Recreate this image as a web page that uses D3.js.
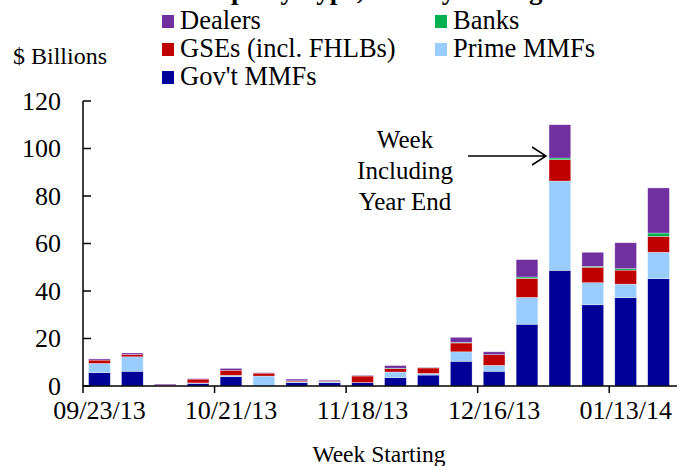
<!DOCTYPE html>
<html>
<head>
<meta charset="utf-8">
<script src="https://cdn.jsdelivr.net/npm/d3@7"></script>
<style>
  html, body { margin: 0; padding: 0; background: #fff; }
  svg { display: block; font-family: "Liberation Serif", "Times New Roman", serif; }
</style>
</head>
<body>
<div id="chart"></div>
<script>
// ---------------------------------------------------------
// data – weekly averages, $ billions
// ---------------------------------------------------------
const weeks = ["09/23/13", "09/30/13", "10/07/13", "10/14/13", "10/21/13", "10/28/13",
               "11/04/13", "11/11/13", "11/18/13", "11/25/13", "12/02/13", "12/09/13",
               "12/16/13", "12/23/13", "12/30/13", "01/06/14", "01/13/14", "01/20/14"];

const govMMFs   = [5.6, 6.2, 0.1, 1.1, 3.9, 0.0, 1.4, 1.4, 1.4, 3.5, 4.6, 10.4, 6.2, 26.0, 48.7, 34.2, 37.2, 45.2];
const primeMMFs = [3.9, 6.1, 0.0, 0.2, 0.6, 4.2, 0.4, 0.3, 0.1, 2.4, 0.7, 4.0, 2.5, 11.3, 37.6, 9.3, 5.7, 11.1];
const gses      = [1.4, 1.0, 0.3, 1.6, 2.1, 1.2, 0.4, 0.3, 2.7, 1.4, 2.3, 3.7, 4.5, 8.0, 9.0, 6.5, 5.9, 6.7];
const banks     = [0.0, 0.0, 0.0, 0.0, 0.0, 0.0, 0.0, 0.0, 0.0, 0.2, 0.1, 0.3, 0.0, 0.6, 0.7, 0.4, 0.6, 1.4];
const dealers   = [0.5, 0.6, 0.4, 0.2, 0.8, 0.2, 0.7, 0.4, 0.3, 1.1, 0.2, 2.1, 1.2, 7.3, 14.0, 5.9, 10.9, 19.0];

const yTicks = [0, 20, 40, 60, 80, 100, 120];
const xLabelWeeks = ["09/23/13", "10/21/13", "11/18/13", "12/16/13", "01/13/14"];

const series = [
  { key: "gov",    label: "Gov't MMFs",          color: "#000099", values: govMMFs },
  { key: "prime",  label: "Prime MMFs",          color: "#99CCFF", values: primeMMFs },
  { key: "gse",    label: "GSEs (incl. FHLBs)",  color: "#C00000", values: gses },
  { key: "banks",  label: "Banks",               color: "#00B050", values: banks },
  { key: "dealers",label: "Dealers",             color: "#7030A0", values: dealers }
];

// ---------------------------------------------------------
// svg + scales
// ---------------------------------------------------------
const width = 689, height = 466;
const svg = d3.select("#chart").append("svg")
    .attr("width", width)
    .attr("height", height);

const x = d3.scaleBand()
    .domain(weeks)
    .range([83, 675])
    .paddingInner(0.34)
    .paddingOuter(0.17);

const y = d3.scaleLinear()
    .domain([0, 120])
    .range([386, 101]);

const rows = weeks.map((w, i) => {
  const r = { week: w };
  series.forEach(s => r[s.key] = s.values[i]);
  return r;
});

const stacked = d3.stack().keys(series.map(s => s.key))(rows);

// bars
svg.append("g")
  .selectAll("g")
  .data(stacked)
  .join("g")
    .attr("fill", (d, i) => series[i].color)
  .selectAll("rect")
  .data(d => d)
  .join("rect")
    .attr("x", d => x(d.data.week))
    .attr("width", x.bandwidth())
    .attr("y", d => y(d[1]))
    .attr("height", d => Math.max(0, y(d[0]) - y(d[1])))
    .attr("stroke", "#fff")
    .attr("stroke-opacity", 0.5)
    .attr("stroke-width", 0.6);

// ---------------------------------------------------------
// axes
// ---------------------------------------------------------
const axisG = svg.append("g").attr("stroke", "#000").attr("stroke-width", 1.5);

// y axis line + inward ticks
axisG.append("line")
  .attr("x1", 83).attr("x2", 83)
  .attr("y1", y(120)).attr("y2", y(0));
axisG.selectAll(".ytick")
  .data(yTicks)
  .join("line")
    .attr("x1", 83).attr("x2", 91)
    .attr("y1", d => y(d)).attr("y2", d => y(d));

svg.append("g")
  .selectAll("text")
  .data(yTicks)
  .join("text")
    .attr("x", 61)
    .attr("y", d => y(d))
    .attr("dy", "0.34em")
    .attr("text-anchor", "end")
    .attr("font-size", 26)
    .text(d => d);

// x axis line + outward ticks at every fourth week boundary
axisG.append("line")
  .attr("x1", 83).attr("x2", 677)
  .attr("y1", y(0)).attr("y2", y(0));
axisG.selectAll(".xtick")
  .data(xLabelWeeks)
  .join("line")
    .attr("x1", d => x(d) - x.step() * x.paddingInner() / 2)
    .attr("x2", d => x(d) - x.step() * x.paddingInner() / 2)
    .attr("y1", y(0)).attr("y2", y(0) + 7);

svg.append("g")
  .selectAll("text")
  .data(xLabelWeeks)
  .join("text")
    .attr("x", d => x(d) + x.bandwidth() / 2)
    .attr("y", 419)
    .attr("text-anchor", "middle")
    .attr("font-size", 26)
    .text(d => d);

svg.append("text")
  .attr("x", 379)
  .attr("y", 462)
  .attr("text-anchor", "middle")
  .attr("font-size", 23.5)
  .text("Week Starting");

svg.append("text")
  .attr("x", 13)
  .attr("y", 64)
  .attr("font-size", 24)
  .text("$ Billions");

// clipped title at very top
svg.append("text")
  .attr("x", 135)
  .attr("y", -1)
  .attr("font-size", 27)
  .attr("font-weight", "bold")
  .text("Counterparty Type, Weekly Averages");

// ---------------------------------------------------------
// legend
// ---------------------------------------------------------
const legendItems = [
  { s: series[4], x: 162, y: 15 },
  { s: series[3], x: 435, y: 15 },
  { s: series[2], x: 162, y: 43 },
  { s: series[1], x: 435, y: 43 },
  { s: series[0], x: 162, y: 71 }
];
const lg = svg.append("g")
  .selectAll("g")
  .data(legendItems)
  .join("g")
    .attr("transform", d => `translate(${d.x},${d.y})`);
lg.append("rect")
  .attr("width", 12).attr("height", 13)
  .attr("fill", d => d.s.color);
lg.append("text")
  .attr("x", 18)
  .attr("y", 14)
  .attr("font-size", 26.5)
  .text(d => d.s.label);

// ---------------------------------------------------------
// annotation
// ---------------------------------------------------------
const ann = svg.append("text")
  .attr("text-anchor", "middle")
  .attr("font-size", 25);
["Week", "Including", "Year End"].forEach((t, i) => {
  ann.append("tspan").attr("x", 405).attr("y", 148 + i * 31).text(t);
});

const arrowY = 156;
const tipX = x("12/30/13") - 3;
svg.append("path")
  .attr("d", `M468,${arrowY}H${tipX}M${tipX - 14},${arrowY - 9}L${tipX},${arrowY}L${tipX - 14},${arrowY + 9}`)
  .attr("fill", "none")
  .attr("stroke", "#000")
  .attr("stroke-width", 1.5);
</script>
</body>
</html>
